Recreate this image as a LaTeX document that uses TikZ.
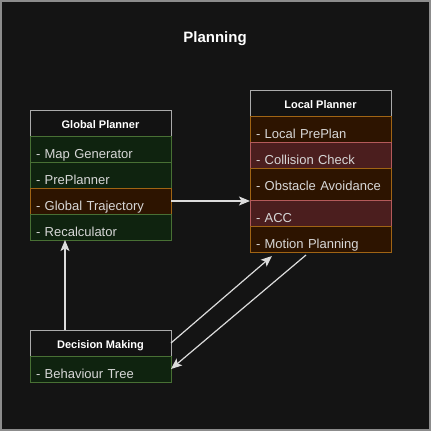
\documentclass[tikz,border=0pt]{standalone}
\usepackage{fontspec}
\setmainfont{Liberation Sans}
\usetikzlibrary{positioning,arrows.meta}
\definecolor{bgcol}{RGB}{20,20,20}
\definecolor{framecol}{RGB}{140,140,140}
\definecolor{headline}{RGB}{170,170,170}
\definecolor{headfill}{RGB}{18,18,18}
\definecolor{greenfill}{RGB}{15,35,15}
\definecolor{greenline}{RGB}{72,112,52}
\definecolor{brownfill}{RGB}{45,20,0}
\definecolor{brownline}{RGB}{160,100,20}
\definecolor{redfill}{RGB}{75,30,30}
\definecolor{redline}{RGB}{180,90,90}
\definecolor{rowtext}{RGB}{215,215,215}
\definecolor{linkcol}{RGB}{220,220,220}
\begin{document}
\begin{tikzpicture}[x=1pt,y=-1pt,
  head/.style={rectangle, draw=headline, fill=headfill, line width=1pt, minimum width=141pt, minimum height=26pt,
    inner sep=0pt, outer sep=0pt, text height=10pt, text depth=0pt, text=white, font=\bfseries\fontsize{11}{13}\selectfont},
  item/.style={rectangle, line width=1pt, minimum width=141pt, minimum height=26pt, inner xsep=6pt, inner ysep=0pt,
    outer sep=0pt, text width=129pt, align=left, text height=19pt, text depth=0pt, text=rowtext,
    font=\fontsize{13}{15}\selectfont},
  greenitem/.style={item, draw=greenline, fill=greenfill},
  brownitem/.style={item, draw=brownline, fill=brownfill},
  reditem/.style={item, draw=redline, fill=redfill},
  link/.style={draw=linkcol, line width=1.2pt, -{Stealth[length=11pt,width=9pt,inset=2.5pt]}}]
  \useasboundingbox (0,0) rectangle (431,431);
  \fill[bgcol] (0,0) rectangle (431,431);
  \draw[framecol, line width=1.5pt] (1,1) rectangle (430,430);

  \node[text=white, inner sep=0pt, font=\bfseries\fontsize{15}{18}\selectfont] (title) at (215,39) {Planning};

  \node[head] (gphead) at (100.5,123) {Global Planner};
  \node[greenitem, below=0pt of gphead] (gpmap) {- Map Generator};
  \node[greenitem, below=0pt of gpmap] (gppre) {- PrePlanner};
  \node[brownitem, below=0pt of gppre] (gptraj) {- Global Trajectory};
  \node[greenitem, below=0pt of gptraj] (gprecalc) {- Recalculator};

  \node[head] (lphead) at (320.5,103) {Local Planner};
  \node[brownitem, below=0pt of lphead] (lppre) {- Local PrePlan};
  \node[reditem, below=0pt of lppre] (lpcoll) {- Collision Check};
  \node[brownitem, below=0pt of lpcoll, minimum height=32pt, text height=12pt] (lpobst) {- Obstacle Avoidance};
  \node[reditem, below=0pt of lpobst] (lpacc) {- ACC};
  \node[brownitem, below=0pt of lpacc] (lpmotion) {- Motion Planning};

  \node[head] (dmhead) at (100.5,343) {Decision Making};
  \node[greenitem, below=0pt of dmhead] (dmtree) {- Behaviour Tree};

  \draw[link] (gptraj.east) -- (gptraj.east -| lpobst.west);
  \draw[link] ([xshift=-35.5pt]dmhead.north) -- ([xshift=-35.5pt]gprecalc.south);
  \draw[link] (dmhead.east) -- ([xshift=22pt,yshift=-4pt]lpmotion.south west);
  \draw[link] ([xshift=56pt,yshift=-3pt]lpmotion.south west) -- (dmtree.east);
\end{tikzpicture}
\end{document}
